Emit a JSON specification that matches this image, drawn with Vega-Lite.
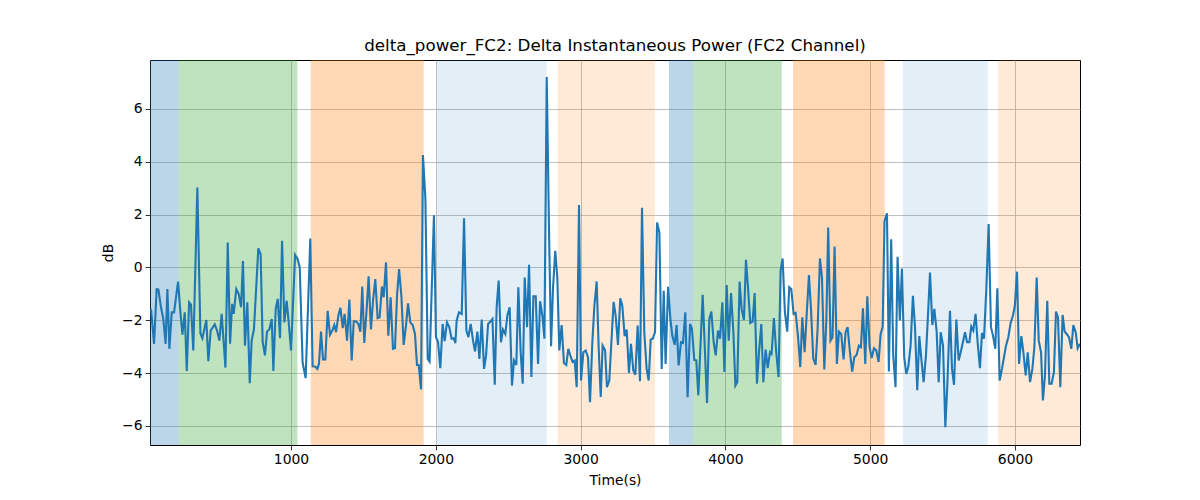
{
  "$schema": "https://vega.github.io/schema/vega-lite/v6.json",
  "description": "delta_power_FC2: Delta Instantaneous Power (FC2 Channel)",
  "title": {
    "text": "delta_power_FC2: Delta Instantaneous Power (FC2 Channel)",
    "font": "DejaVu Sans",
    "fontSize": 16.7,
    "fontWeight": "normal",
    "color": "black",
    "anchor": "middle",
    "offset": 5
  },
  "autosize": {"type": "none"},
  "padding": {"left": 150, "top": 60, "right": 120, "bottom": 55},
  "width": 930,
  "height": 385,
  "datasets": {
    "spans": [
      {"start": 0, "end": 225, "stage": "s1"},
      {"start": 225, "end": 1044, "stage": "s2"},
      {"start": 1136, "end": 1916, "stage": "s3"},
      {"start": 2008, "end": 2766, "stage": "s4"},
      {"start": 2842, "end": 3514, "stage": "s5"},
      {"start": 3610, "end": 3778, "stage": "s1"},
      {"start": 3778, "end": 4389, "stage": "s2"},
      {"start": 4467, "end": 5100, "stage": "s3"},
      {"start": 5226, "end": 5811, "stage": "s4"},
      {"start": 5883, "end": 6500, "stage": "s5"}
    ],
    "power": [
      {"t": 33, "v": -1.57}, {"t": 54, "v": -2.89}, {"t": 72, "v": -0.82}, {"t": 84, "v": -0.84},
      {"t": 102, "v": -1.51}, {"t": 118, "v": -1.95}, {"t": 134, "v": -2.89}, {"t": 146, "v": -0.82},
      {"t": 160, "v": -3.08}, {"t": 176, "v": -1.7}, {"t": 192, "v": -1.7}, {"t": 220, "v": -0.54},
      {"t": 236, "v": -1.7}, {"t": 250, "v": -2.54}, {"t": 266, "v": -1.7}, {"t": 280, "v": -3.92},
      {"t": 296, "v": -1.32}, {"t": 309, "v": -1.41}, {"t": 325, "v": -3.14}, {"t": 353, "v": 3.02},
      {"t": 374, "v": -2.49}, {"t": 388, "v": -2.68}, {"t": 415, "v": -1.99}, {"t": 429, "v": -3.55},
      {"t": 445, "v": -2.39}, {"t": 473, "v": -2.15}, {"t": 489, "v": -2.39}, {"t": 505, "v": -2.77},
      {"t": 521, "v": -1.76}, {"t": 547, "v": -3.79}, {"t": 563, "v": 0.94}, {"t": 579, "v": -2.89},
      {"t": 593, "v": -1.38}, {"t": 604, "v": -1.76}, {"t": 622, "v": -0.82}, {"t": 639, "v": -1.01},
      {"t": 655, "v": -1.51}, {"t": 668, "v": 0.24}, {"t": 682, "v": -2.96}, {"t": 698, "v": -1.32},
      {"t": 715, "v": -4.38}, {"t": 728, "v": -2.77}, {"t": 744, "v": -2.33}, {"t": 774, "v": 0.72},
      {"t": 790, "v": 0.5}, {"t": 804, "v": -2.81}, {"t": 820, "v": -3.33}, {"t": 834, "v": -2.43},
      {"t": 850, "v": -2.35}, {"t": 867, "v": -1.95}, {"t": 878, "v": -3.92}, {"t": 894, "v": -1.57},
      {"t": 908, "v": -1.19}, {"t": 924, "v": -2.68}, {"t": 938, "v": 1.01}, {"t": 954, "v": -2.08},
      {"t": 970, "v": -1.26}, {"t": 984, "v": -2.08}, {"t": 1000, "v": -3.14}, {"t": 1028, "v": 0.47},
      {"t": 1046, "v": 0.31}, {"t": 1060, "v": 0.0}, {"t": 1080, "v": -3.6}, {"t": 1101, "v": -4.19},
      {"t": 1133, "v": 1.09}, {"t": 1149, "v": -3.74}, {"t": 1166, "v": -3.75}, {"t": 1182, "v": -3.84},
      {"t": 1193, "v": -3.65}, {"t": 1207, "v": -2.43}, {"t": 1221, "v": -3.48}, {"t": 1237, "v": -3.48},
      {"t": 1253, "v": -1.64}, {"t": 1269, "v": -2.55}, {"t": 1285, "v": -2.39}, {"t": 1299, "v": -2.18},
      {"t": 1311, "v": -2.45}, {"t": 1327, "v": -1.82}, {"t": 1341, "v": -1.53}, {"t": 1357, "v": -2.3},
      {"t": 1370, "v": -1.76}, {"t": 1387, "v": -2.77}, {"t": 1403, "v": -1.22}, {"t": 1419, "v": -3.52},
      {"t": 1433, "v": -2.04}, {"t": 1449, "v": -2.04}, {"t": 1465, "v": -2.14}, {"t": 1479, "v": -2.43},
      {"t": 1492, "v": -0.72}, {"t": 1506, "v": -2.86}, {"t": 1522, "v": -1.6}, {"t": 1536, "v": -0.34},
      {"t": 1552, "v": -2.35}, {"t": 1566, "v": -1.28}, {"t": 1582, "v": -0.44}, {"t": 1598, "v": -1.92},
      {"t": 1612, "v": -1.89}, {"t": 1628, "v": -0.72}, {"t": 1640, "v": -1.13}, {"t": 1656, "v": 0.19},
      {"t": 1672, "v": -2.58}, {"t": 1688, "v": -1.13}, {"t": 1704, "v": -3.08}, {"t": 1718, "v": -3.06},
      {"t": 1732, "v": -1.07}, {"t": 1746, "v": -0.06}, {"t": 1762, "v": -1.07}, {"t": 1778, "v": -2.93},
      {"t": 1794, "v": -2.2}, {"t": 1808, "v": -1.36}, {"t": 1824, "v": -2.08}, {"t": 1840, "v": -2.18},
      {"t": 1856, "v": -2.52}, {"t": 1870, "v": -3.69}, {"t": 1882, "v": -3.69}, {"t": 1898, "v": -4.62},
      {"t": 1911, "v": 4.25}, {"t": 1928, "v": 2.6}, {"t": 1944, "v": -3.46}, {"t": 1957, "v": -3.56},
      {"t": 1987, "v": 1.97}, {"t": 2001, "v": -2.64}, {"t": 2015, "v": -2.81}, {"t": 2031, "v": -3.81},
      {"t": 2047, "v": -2.14}, {"t": 2061, "v": -2.79}, {"t": 2077, "v": -2.08}, {"t": 2093, "v": -2.26},
      {"t": 2109, "v": -2.7}, {"t": 2123, "v": -2.68}, {"t": 2135, "v": -2.87}, {"t": 2144, "v": -2.01},
      {"t": 2160, "v": -1.7}, {"t": 2179, "v": -1.76}, {"t": 2195, "v": 1.86}, {"t": 2211, "v": -2.39},
      {"t": 2225, "v": -2.64}, {"t": 2241, "v": -2.14}, {"t": 2257, "v": -2.77}, {"t": 2271, "v": -3.18},
      {"t": 2287, "v": -2.43}, {"t": 2301, "v": -3.46}, {"t": 2317, "v": -1.97}, {"t": 2333, "v": -3.84},
      {"t": 2347, "v": -3.33}, {"t": 2361, "v": -2.14}, {"t": 2377, "v": -2.05}, {"t": 2391, "v": -1.95},
      {"t": 2407, "v": -4.44}, {"t": 2420, "v": -1.51}, {"t": 2434, "v": -0.5}, {"t": 2450, "v": -2.83},
      {"t": 2464, "v": -2.35}, {"t": 2480, "v": -2.52}, {"t": 2494, "v": -1.82}, {"t": 2510, "v": -1.51},
      {"t": 2526, "v": -4.47}, {"t": 2540, "v": -3.52}, {"t": 2556, "v": -3.69}, {"t": 2570, "v": -0.75},
      {"t": 2586, "v": -3.21}, {"t": 2600, "v": -4.4}, {"t": 2614, "v": -0.38}, {"t": 2630, "v": -2.26},
      {"t": 2644, "v": 0.1}, {"t": 2660, "v": -4.15}, {"t": 2674, "v": -1.09}, {"t": 2690, "v": -1.09},
      {"t": 2706, "v": -3.65}, {"t": 2720, "v": -1.28}, {"t": 2736, "v": -1.82}, {"t": 2750, "v": -2.7},
      {"t": 2766, "v": 7.21}, {"t": 2782, "v": 1.32}, {"t": 2796, "v": -2.98}, {"t": 2809, "v": -0.82},
      {"t": 2825, "v": 0.63}, {"t": 2839, "v": -0.38}, {"t": 2853, "v": -3.14}, {"t": 2869, "v": -2.18},
      {"t": 2885, "v": -3.62}, {"t": 2901, "v": -3.69}, {"t": 2915, "v": -3.08}, {"t": 2931, "v": -3.37},
      {"t": 2945, "v": -3.58}, {"t": 2959, "v": -3.52}, {"t": 2973, "v": -4.53}, {"t": 2989, "v": 2.36},
      {"t": 3003, "v": -4.28}, {"t": 3019, "v": -3.21}, {"t": 3035, "v": -3.14}, {"t": 3051, "v": -3.4},
      {"t": 3065, "v": -5.1}, {"t": 3081, "v": -2.83}, {"t": 3095, "v": -1.45}, {"t": 3111, "v": -0.53},
      {"t": 3125, "v": -3.08}, {"t": 3139, "v": -4.9}, {"t": 3152, "v": -2.96}, {"t": 3169, "v": -3.14},
      {"t": 3182, "v": -4.53}, {"t": 3198, "v": -4.28}, {"t": 3228, "v": -1.3}, {"t": 3242, "v": -1.82},
      {"t": 3258, "v": -2.93}, {"t": 3274, "v": -1.17}, {"t": 3288, "v": -1.45}, {"t": 3304, "v": -2.6},
      {"t": 3318, "v": -2.35}, {"t": 3334, "v": -3.99}, {"t": 3348, "v": -2.89}, {"t": 3364, "v": -3.9},
      {"t": 3378, "v": -4.06}, {"t": 3394, "v": -2.2}, {"t": 3410, "v": -4.31}, {"t": 3424, "v": 2.26},
      {"t": 3440, "v": -2.48}, {"t": 3456, "v": -3.84}, {"t": 3470, "v": -4.28}, {"t": 3484, "v": -2.73},
      {"t": 3498, "v": -2.7}, {"t": 3514, "v": -2.45}, {"t": 3528, "v": 1.7}, {"t": 3544, "v": 1.32},
      {"t": 3560, "v": -3.84}, {"t": 3574, "v": -0.88}, {"t": 3587, "v": -3.65}, {"t": 3604, "v": -0.73},
      {"t": 3620, "v": -1.95}, {"t": 3633, "v": -2.58}, {"t": 3650, "v": -2.93}, {"t": 3663, "v": -2.18},
      {"t": 3677, "v": -3.71}, {"t": 3693, "v": -2.83}, {"t": 3707, "v": -2.86}, {"t": 3723, "v": -1.7},
      {"t": 3739, "v": -4.91}, {"t": 3756, "v": -2.14}, {"t": 3769, "v": -2.33}, {"t": 3785, "v": -3.5},
      {"t": 3799, "v": -3.52}, {"t": 3813, "v": -4.84}, {"t": 3843, "v": -1.04}, {"t": 3873, "v": -5.13},
      {"t": 3889, "v": -1.95}, {"t": 3903, "v": -1.67}, {"t": 3919, "v": -2.83}, {"t": 3933, "v": -3.33},
      {"t": 3949, "v": -2.39}, {"t": 3963, "v": -2.7}, {"t": 3979, "v": -1.32}, {"t": 3993, "v": -3.96},
      {"t": 4009, "v": -0.67}, {"t": 4023, "v": -2.77}, {"t": 4039, "v": -0.97}, {"t": 4055, "v": -2.45},
      {"t": 4069, "v": -4.47}, {"t": 4082, "v": -4.34}, {"t": 4098, "v": -0.54}, {"t": 4112, "v": -1.57},
      {"t": 4128, "v": -1.99}, {"t": 4142, "v": 0.29}, {"t": 4156, "v": -0.75}, {"t": 4172, "v": -2.1},
      {"t": 4188, "v": -2.05}, {"t": 4202, "v": -0.97}, {"t": 4218, "v": -4.4}, {"t": 4232, "v": -3.21},
      {"t": 4248, "v": -2.14}, {"t": 4262, "v": -4.34}, {"t": 4278, "v": -3.11}, {"t": 4292, "v": -3.81},
      {"t": 4308, "v": -3.21}, {"t": 4319, "v": -3.27}, {"t": 4335, "v": -1.92}, {"t": 4351, "v": -3.21},
      {"t": 4367, "v": -4.15}, {"t": 4381, "v": -0.13}, {"t": 4395, "v": 0.34}, {"t": 4411, "v": -1.7},
      {"t": 4427, "v": -2.43}, {"t": 4441, "v": -0.75}, {"t": 4455, "v": -0.82}, {"t": 4471, "v": -1.76},
      {"t": 4485, "v": -1.72}, {"t": 4501, "v": -2.58}, {"t": 4517, "v": -3.77}, {"t": 4531, "v": -1.89},
      {"t": 4547, "v": -3.21}, {"t": 4561, "v": -1.82}, {"t": 4577, "v": -0.29}, {"t": 4591, "v": -1.57},
      {"t": 4607, "v": -3.46}, {"t": 4623, "v": -3.69}, {"t": 4637, "v": -2.3}, {"t": 4653, "v": 0.34},
      {"t": 4667, "v": -0.38}, {"t": 4683, "v": -3.86}, {"t": 4697, "v": -2.01}, {"t": 4710, "v": 1.51},
      {"t": 4726, "v": -2.77}, {"t": 4740, "v": -2.64}, {"t": 4754, "v": 0.79}, {"t": 4770, "v": -3.65},
      {"t": 4784, "v": -2.43}, {"t": 4800, "v": -2.52}, {"t": 4816, "v": -3.48}, {"t": 4830, "v": -2.45},
      {"t": 4844, "v": -2.26}, {"t": 4860, "v": -3.21}, {"t": 4876, "v": -3.94}, {"t": 4890, "v": -3.4},
      {"t": 4906, "v": -3.31}, {"t": 4922, "v": -2.96}, {"t": 4936, "v": -3.02}, {"t": 4950, "v": -1.55},
      {"t": 4966, "v": -3.65}, {"t": 4980, "v": -1.09}, {"t": 4996, "v": -3.02}, {"t": 5010, "v": -3.43},
      {"t": 5026, "v": -3.06}, {"t": 5042, "v": -3.14}, {"t": 5058, "v": -3.58}, {"t": 5072, "v": -2.52},
      {"t": 5086, "v": -2.26}, {"t": 5099, "v": 1.76}, {"t": 5116, "v": 2.05}, {"t": 5129, "v": -3.94},
      {"t": 5145, "v": 1.07}, {"t": 5159, "v": -3.33}, {"t": 5175, "v": -4.53}, {"t": 5189, "v": 0.4},
      {"t": 5205, "v": -2.01}, {"t": 5219, "v": -0.04}, {"t": 5235, "v": -3.4}, {"t": 5249, "v": -4.03},
      {"t": 5263, "v": -3.77}, {"t": 5279, "v": -2.96}, {"t": 5295, "v": -1.07}, {"t": 5309, "v": -2.2},
      {"t": 5325, "v": -4.65}, {"t": 5339, "v": -2.6}, {"t": 5355, "v": -3.56}, {"t": 5369, "v": -4.34},
      {"t": 5385, "v": -3.33}, {"t": 5399, "v": -1.82}, {"t": 5413, "v": -0.19}, {"t": 5429, "v": -2.18},
      {"t": 5443, "v": -1.57}, {"t": 5459, "v": -2.43}, {"t": 5473, "v": -4.34}, {"t": 5487, "v": -2.45},
      {"t": 5503, "v": -2.96}, {"t": 5519, "v": -6.05}, {"t": 5533, "v": -4.4}, {"t": 5551, "v": -1.64},
      {"t": 5565, "v": -3.84}, {"t": 5579, "v": -4.44}, {"t": 5595, "v": -1.97}, {"t": 5611, "v": -3.52},
      {"t": 5625, "v": -3.21}, {"t": 5639, "v": -2.86}, {"t": 5655, "v": -2.45}, {"t": 5669, "v": -2.83},
      {"t": 5685, "v": -2.83}, {"t": 5698, "v": -2.24}, {"t": 5712, "v": -2.39}, {"t": 5728, "v": -1.76},
      {"t": 5742, "v": -2.83}, {"t": 5758, "v": -3.81}, {"t": 5772, "v": -2.48}, {"t": 5786, "v": -2.7},
      {"t": 5802, "v": -0.82}, {"t": 5818, "v": 1.64}, {"t": 5834, "v": -2.26}, {"t": 5848, "v": -2.58},
      {"t": 5864, "v": -3.08}, {"t": 5878, "v": -0.79}, {"t": 5894, "v": -4.28}, {"t": 5910, "v": -3.84},
      {"t": 5924, "v": -3.4}, {"t": 5938, "v": -2.96}, {"t": 5954, "v": -2.64}, {"t": 5970, "v": -2.1},
      {"t": 5986, "v": -1.82}, {"t": 5999, "v": -1.45}, {"t": 6014, "v": -0.16}, {"t": 6028, "v": -3.65},
      {"t": 6044, "v": -2.6}, {"t": 6058, "v": -3.21}, {"t": 6074, "v": -4.09}, {"t": 6088, "v": -3.21},
      {"t": 6104, "v": -4.34}, {"t": 6120, "v": -3.84}, {"t": 6134, "v": -3.02}, {"t": 6150, "v": -0.38},
      {"t": 6164, "v": -2.77}, {"t": 6180, "v": -3.21}, {"t": 6193, "v": -5.03}, {"t": 6207, "v": -4.09},
      {"t": 6223, "v": -1.26}, {"t": 6237, "v": -4.4}, {"t": 6253, "v": -4.4}, {"t": 6269, "v": -3.96},
      {"t": 6283, "v": -1.67}, {"t": 6297, "v": -1.89}, {"t": 6313, "v": -4.53}, {"t": 6329, "v": -1.8},
      {"t": 6343, "v": -2.43}, {"t": 6357, "v": -2.52}, {"t": 6373, "v": -2.64}, {"t": 6389, "v": -3.08},
      {"t": 6403, "v": -2.18}, {"t": 6419, "v": -2.45}, {"t": 6433, "v": -3.06}, {"t": 6449, "v": -2.89}
    ]
  },
  "layer": [
    {
      "data": {"name": "spans"},
      "mark": {"type": "rect", "clip": true, "strokeWidth": 0},
      "encoding": {
        "x": {
          "field": "start",
          "type": "quantitative",
          "title": "Time(s)",
          "scale": {"domain": [26, 6449], "nice": false, "zero": false},
          "axis": {"values": [1000, 2000, 3000, 4000, 5000, 6000], "format": "d"}
        },
        "x2": {"field": "end"},
        "color": {
          "field": "stage",
          "type": "nominal",
          "legend": null,
          "scale": {
            "domain": ["s1", "s2", "s3", "s4", "s5"],
            "range": [
              "rgba(31,119,180,0.3)",
              "rgba(44,160,44,0.3)",
              "rgba(255,127,14,0.3)",
              "rgba(31,119,180,0.12)",
              "rgba(255,127,14,0.16)"
            ]
          }
        }
      }
    },
    {
      "data": {"name": "power"},
      "mark": {"type": "line", "color": "#1f77b4", "strokeWidth": 2.1, "clip": true},
      "encoding": {
        "x": {
          "field": "t",
          "type": "quantitative",
          "title": "Time(s)",
          "scale": {"domain": [26, 6449], "nice": false, "zero": false},
          "axis": {"values": [1000, 2000, 3000, 4000, 5000, 6000], "format": "d"}
        },
        "y": {
          "field": "v",
          "type": "quantitative",
          "title": "dB",
          "scale": {"domain": [-6.72, 7.85], "nice": false, "zero": false},
          "axis": {"values": [-6, -4, -2, 0, 2, 4, 6]}
        }
      }
    }
  ],
  "config": {
    "view": {"stroke": "black", "strokeWidth": 1},
    "rect": {"opacity": 1},
    "axis": {
      "domain": false,
      "grid": true,
      "gridColor": "#b0b0b0",
      "gridWidth": 0.8,
      "tickColor": "black",
      "tickSize": 4.9,
      "tickWidth": 0.8,
      "labelFont": "DejaVu Sans",
      "labelFontSize": 13.9,
      "labelColor": "black",
      "labelPadding": 3,
      "titleFont": "DejaVu Sans",
      "titleFontSize": 13.9,
      "titleFontWeight": "normal",
      "titleColor": "black"
    },
    "axisX": {"titlePadding": 7},
    "axisY": {"titlePadding": 6}
  }
}
